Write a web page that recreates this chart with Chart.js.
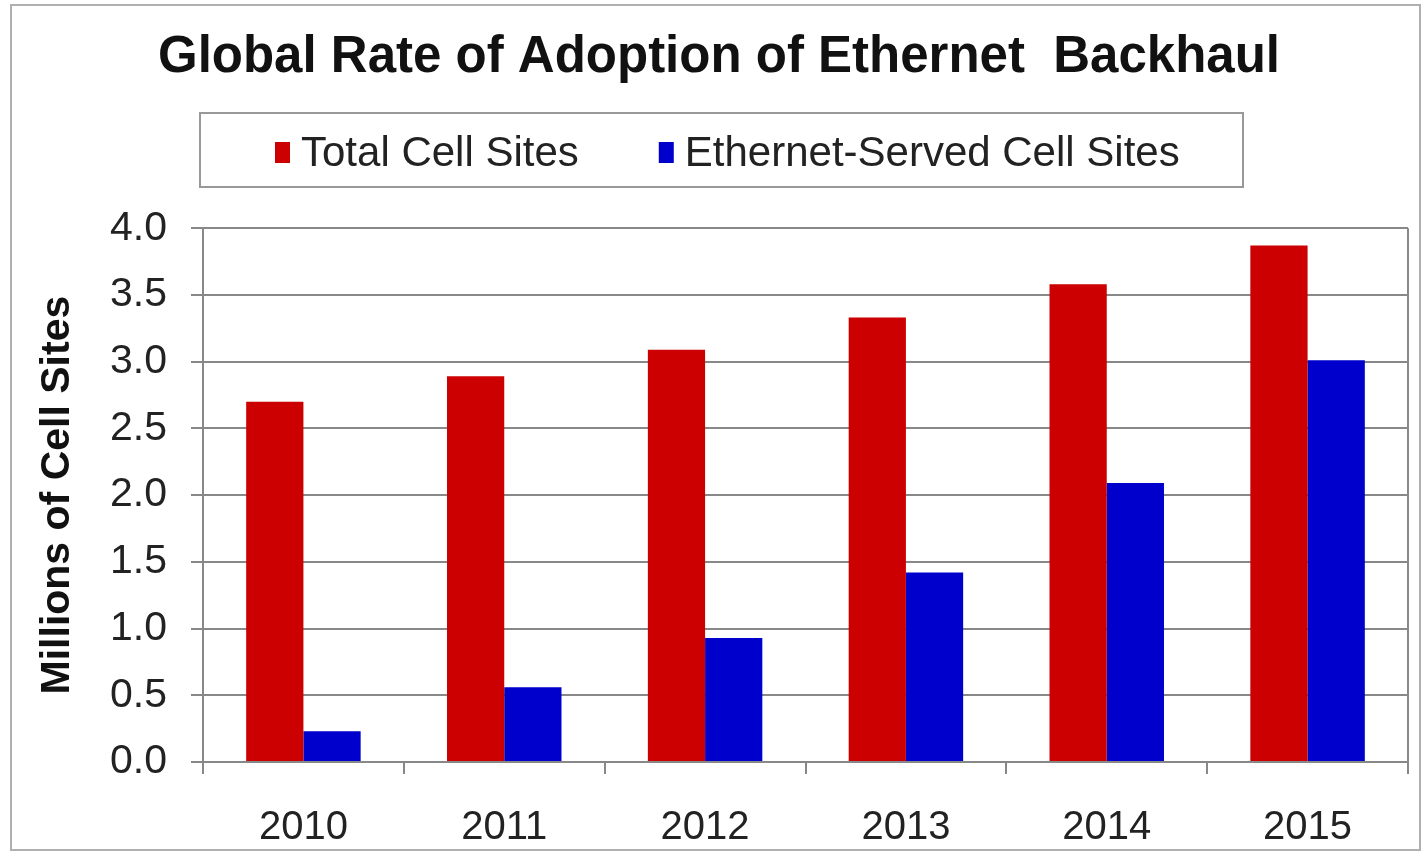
<!DOCTYPE html>
<html>
<head>
<meta charset="utf-8">
<title>Global Rate of Adoption of Ethernet Backhaul</title>
<script src="https://cdn.jsdelivr.net/npm/chart.js@4.4.1/dist/chart.umd.min.js"></script>
<style>
  body { margin: 0; background: #fff; }
  canvas { display: block; }
</style>
</head>
<body>
<canvas id="backhaulChart" width="1427" height="857"></canvas>
<script>
// chart values (millions of cell sites)
let years = ["2010", "2011", "2012", "2013", "2014", "2015"];
let totalSites = [2.70, 2.89, 3.09, 3.33, 3.58, 3.87];
let ethernetSites = [0.23, 0.56, 0.93, 1.42, 2.09, 3.01];
let seriesNames = ["Total Cell Sites", "Ethernet-Served Cell Sites"];
let seriesColors = ["#cc0000", "#0000cc"];

Chart.defaults.font.family = "'Liberation Sans', Arial, sans-serif";

// boxed legend + outer frame + right edge of the plot, drawn like the old excel chart
const frameAndLegend = {
    id: "frameAndLegend",
    afterDraw(chart) {
        let ctx = chart.ctx;
        let area = chart.chartArea;
        ctx.save();

        // outer frame
        ctx.strokeStyle = "#b0b0b0";
        ctx.lineWidth = 2;
        ctx.strokeRect(11, 5, 1409, 845);

        // right border of plot area
        ctx.strokeStyle = "#888";
        ctx.beginPath();
        ctx.moveTo(area.right, area.top);
        ctx.lineTo(area.right, area.bottom);
        ctx.stroke();

        // legend box
        ctx.strokeStyle = "#999";
        ctx.lineWidth = 2;
        ctx.strokeRect(200, 113, 1043, 74);

        ctx.font = "42px 'Liberation Sans', Arial, sans-serif";
        ctx.textBaseline = "middle";
        let x = 275;
        let y = 153;
        chart.data.datasets.forEach(ds => {
            ctx.fillStyle = ds.backgroundColor;
            ctx.fillRect(x, y - 11, 15, 21);
            ctx.fillStyle = "#222";
            ctx.fillText(ds.label, x + 26, y + 1);
            x += 26 + ctx.measureText(ds.label).width + 80;
        });
        ctx.restore();
    }
};

const ctx = document.getElementById("backhaulChart").getContext("2d");

new Chart(ctx, {
    type: "bar",
    data: {
        labels: years,
        datasets: [
            {
                label: seriesNames[0],
                data: totalSites,
                backgroundColor: seriesColors[0]
            },
            {
                label: seriesNames[1],
                data: ethernetSites,
                backgroundColor: seriesColors[1]
            }
        ]
    },
    options: {
        responsive: false,
        animation: false,
        layout: {
            padding: { left: 30, right: 19, top: 0, bottom: 0 }
        },
        datasets: {
            bar: {
                categoryPercentage: 0.57,
                barPercentage: 1.0
            }
        },
        plugins: {
            legend: { display: false },
            tooltip: { enabled: false },
            title: {
                display: true,
                text: "Global Rate of Adoption of Ethernet  Backhaul",
                color: "#111",
                font: { size: 51, weight: "bold" },
                padding: { top: 27, bottom: 140 }
            }
        },
        scales: {
            x: {
                grid: {
                    drawOnChartArea: false,
                    color: "#888",
                    lineWidth: 2,
                    tickLength: 12,
                    offset: true
                },
                border: { color: "#888", width: 2 },
                ticks: {
                    color: "#222",
                    font: { size: 40 },
                    padding: 30
                },
                afterFit(scale) {
                    scale.height = 95;
                }
            },
            y: {
                min: 0,
                max: 4,
                ticks: {
                    stepSize: 0.5,
                    color: "#222",
                    font: { size: 41 },
                    padding: 24,
                    callback: v => v.toFixed(1)
                },
                grid: {
                    color: "#888",
                    lineWidth: 2,
                    tickLength: 12
                },
                border: { color: "#888", width: 2 },
                title: {
                    display: true,
                    text: "Millions of Cell Sites",
                    color: "#111",
                    font: { size: 41, weight: "bold" },
                    padding: { top: 3, bottom: 0 }
                },
                afterFit(scale) {
                    scale.width = 173;
                }
            }
        }
    },
    plugins: [frameAndLegend]
});
</script>
</body>
</html>
